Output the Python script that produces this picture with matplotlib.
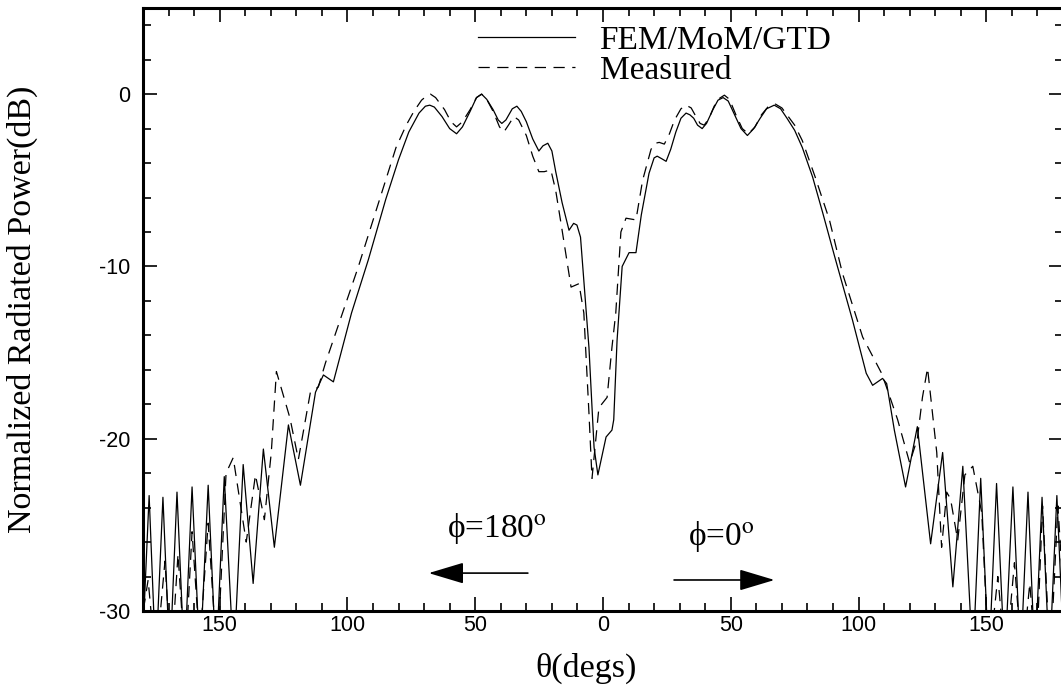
import numpy as np
import matplotlib
matplotlib.use("Agg")
import matplotlib.pyplot as plt
from matplotlib.ticker import MultipleLocator, FixedLocator

# FEM/MoM/GTD (solid) - theta in degs, negative side is phi=180
fem_theta = [-180.5, -177.6, -175.0, -172.2, -169.5, -166.7, -163.8, -160.8, -157.7, -154.5,
             -151.4, -148.2, -144.5, -140.8, -136.9, -132.9, -128.6, -123.1, -118.4, -112.5,
             -109.4, -105.5, -98.4, -91.8, -85.0, -80.0, -76.0, -72.0, -69.5, -67.8,
             -66.0, -63.0, -60.0, -57.3, -55.0, -52.0, -49.5, -47.5, -45.5, -43.0,
             -41.0, -39.6, -38.0, -35.5, -33.7, -32.0, -30.0, -27.5, -25.1, -23.5,
             -21.6, -20.0, -18.5, -16.0, -13.3, -11.5, -10.2, -8.8, -5.5, -3.5,
             -2.0, -0.4, 1.2, 3.5, 4.2, 5.5, 7.5, 10.2, 12.9, 15.0,
             18.0, 20.0, 21.2, 23.0, 24.7, 26.5, 28.5, 30.5, 32.5, 34.0,
             35.5, 37.0, 38.8, 40.5, 43.0, 45.0, 47.0, 49.0, 51.5, 54.0,
             56.5, 59.0, 61.5, 64.0, 67.0, 69.5, 72.0, 75.0, 78.0, 82.0,
             86.0, 90.6, 97.6, 103.0, 105.5, 109.4, 111.0, 114.0, 118.4, 123.0,
             128.2, 132.9, 136.9, 140.8, 144.7, 147.8, 151.0, 154.0, 157.2, 160.4,
             163.4, 166.3, 169.0, 171.8, 174.7, 177.6, 180.5]
fem_db = [-33, -23.3, -33, -23.4, -33, -23.1, -33, -22.8, -33, -22.7,
          -33, -22.2, -33, -21.5, -28.4, -20.6, -26.3, -19.2, -22.7, -17.3,
          -16.3, -16.7, -12.7, -9.6, -6.1, -3.8, -2.2, -1.1, -0.7, -0.64,
          -0.75, -1.3, -2.0, -2.3, -1.9, -1.0, -0.2, 0.0, -0.3, -0.9,
          -1.5, -1.7, -1.5, -0.85, -0.7, -1.0, -1.6, -2.6, -3.3, -3.0,
          -2.85, -3.3, -4.5, -6.3, -7.9, -7.5, -7.6, -8.3, -14.7, -20.5,
          -22.1, -21.0, -19.9, -19.5, -18.9, -14.3, -10.0, -9.2, -9.2, -7.0,
          -4.6, -3.7, -3.6, -3.75, -3.9, -3.2, -2.2, -1.4, -1.1, -1.2,
          -1.4, -1.8, -2.0, -1.7, -0.9, -0.35, -0.2, -0.4, -1.2, -2.0,
          -2.4, -2.0, -1.4, -0.85, -0.64, -0.85, -1.4, -2.1, -3.1, -4.8,
          -6.9, -9.4, -13.1, -16.2, -16.9, -16.5, -16.8, -19.5, -22.8, -19.3,
          -26.1, -20.8, -28.6, -21.6, -33, -22.3, -33, -22.6, -33, -22.8,
          -33, -23.1, -33, -23.4, -33, -23.3, -33]

# Measured (dashed)
meas_theta = [-181.0, -178.0, -175.0, -171.4, -169.0, -166.3, -163.5, -160.8, -157.8, -154.5,
              -151.0, -147.5, -144.7, -139.6, -136.0, -132.5, -129.8, -127.8, -122.5, -119.2,
              -114.5, -111.4, -108.6, -95.7, -81.0, -77.0, -74.0, -71.0, -69.0, -67.5,
              -65.5, -62.0, -59.5, -57.3, -55.0, -52.0, -49.5, -47.5, -45.5, -43.0,
              -40.5, -38.8, -37.0, -34.9, -33.0, -30.0, -27.5, -25.1, -23.0, -20.4,
              -18.5, -16.0, -12.5, -9.4, -7.5, -5.5, -4.3, -1.6, 1.6, 3.5,
              5.0, 7.0, 9.0, 12.9, 15.5, 18.8, 20.5, 22.0, 24.0, 26.0,
              28.0, 30.5, 32.5, 34.5, 36.0, 38.0, 39.6, 41.5, 43.5, 45.5,
              47.5, 49.5, 52.0, 54.5, 56.9, 59.5, 62.0, 64.5, 67.5, 70.0,
              72.0, 75.0, 78.0, 83.0, 88.6, 93.7, 101.6, 109.0, 111.4, 115.3,
              120.0, 123.0, 125.0, 127.0, 130.6, 132.5, 134.5, 136.0, 138.8, 141.6,
              144.7, 148.2, 151.0, 154.5, 157.5, 161.0, 164.0, 167.0, 169.5, 172.0,
              175.0, 178.0, 181.0]
meas_db = [-31, -28.2, -33, -27.1, -33, -26.7, -33, -25.4, -32, -24.9,
           -33, -22.0, -21.1, -26.0, -22.1, -24.7, -20.8, -16.1, -18.8, -21.2,
           -17.3, -17.0, -15.6, -10.0, -3.1, -1.8, -1.0, -0.35, -0.1, 0.0,
           -0.2, -0.9, -1.6, -1.9, -1.6, -0.9, -0.2, 0.0, -0.3, -1.0,
           -1.9, -2.2, -1.8, -1.3, -1.5, -2.4, -3.6, -4.5, -4.5, -4.4,
           -5.6, -7.9, -11.2, -11.0, -12.7, -18.5, -22.3, -18.2, -17.6, -14.7,
           -12.7, -8.0, -7.2, -7.3, -5.0, -3.2, -2.85, -2.8, -2.9, -2.3,
           -1.5, -0.85, -0.64, -0.8, -1.2, -1.7, -1.8, -1.4, -0.7, -0.25,
           -0.06, -0.3, -1.2, -2.0, -2.3, -1.9, -1.2, -0.75, -0.58, -0.8,
           -1.2, -1.8, -2.7, -4.8, -7.3, -10.4, -14.1, -16.2, -17.2, -18.9,
           -21.4, -20.0, -17.6, -15.9, -20.8, -26.3, -23.1, -23.5, -25.9, -22.1,
           -21.6, -24.3, -33, -28.0, -33, -27.2, -33, -28.4, -33, -23.9,
           -33, -23.9, -31]

xticks = [-150, -100, -50, 0, 50, 100, 150]
xtick_labels = ["150", "100", "50", "0", "50", "100", "150"]
yticks = [0, -10, -20, -30]
ytick_labels = ["0", "-10", "-20", "-30"]

plt.rcParams['font.family'] = ['Liberation Serif', 'DejaVu Serif']
plt.rcParams['mathtext.fontset'] = 'stix'

fig = plt.figure(figsize=(10.61, 6.93), dpi=100)
ax = fig.add_axes([143/1061, 1 - 611/693, 920/1061, 603/693])

ax.plot(fem_theta, fem_db, color='black', lw=0.9, label='FEM/MoM/GTD')
ax.plot(meas_theta, meas_db, color='black', lw=0.9, dashes=(9, 6), label='Measured')

ax.set_xlim(-180, 180)
ax.set_ylim(-30, 5)

ax.xaxis.set_major_locator(FixedLocator(xticks))
ax.set_xticklabels(xtick_labels)
ax.xaxis.set_minor_locator(MultipleLocator(10))
ax.yaxis.set_major_locator(FixedLocator(yticks))
ax.set_yticklabels(ytick_labels)
ax.yaxis.set_minor_locator(MultipleLocator(2))

ax.tick_params(which='both', direction='in', top=True, right=True, width=1.2)
ax.tick_params(which='major', length=10)
ax.tick_params(which='minor', length=5.5)
ax.tick_params(axis='y', pad=9)
ax.tick_params(axis='x', pad=3)
for lab in ax.get_xticklabels() + ax.get_yticklabels():
    lab.set_fontfamily('Liberation Sans')
    lab.set_fontsize(15.5)
for sp in ax.spines.values():
    sp.set_linewidth(2.2)

ax.set_xlabel('θ(degs)', fontsize=24.5)
ax.xaxis.set_label_coords(0.482, -0.07)
ax.set_ylabel('Normalized Radiated Power(dB)', fontsize=24.5)
ax.yaxis.set_label_coords(-0.114, 0.5)

ax.legend(loc='upper left', bbox_to_anchor=(0.364, 0.971), frameon=False,
          fontsize=24, handlelength=2.9, handletextpad=0.75, labelspacing=-0.02,
          borderpad=0, borderaxespad=0)

# phi direction arrows
ax.text(-41.6, -25.2, 'ϕ=180$^{\\rm o}$', fontsize=24, ha='center', va='center')
ax.annotate('', xy=(-68.2, -27.8), xytext=(-29.4, -27.8),
            arrowprops=dict(arrowstyle='-|>,head_length=1.1,head_width=0.33',
                            mutation_scale=20, color='black', lw=1.2,
                            shrinkA=0, shrinkB=0))
ax.text(46.3, -25.7, 'ϕ=0$^{\\rm o}$', fontsize=24, ha='center', va='center')
ax.annotate('', xy=(67.1, -28.2), xytext=(27.8, -28.2),
            arrowprops=dict(arrowstyle='-|>,head_length=1.1,head_width=0.33',
                            mutation_scale=20, color='black', lw=1.2,
                            shrinkA=0, shrinkB=0))

fig.savefig('out.png', dpi=100)
